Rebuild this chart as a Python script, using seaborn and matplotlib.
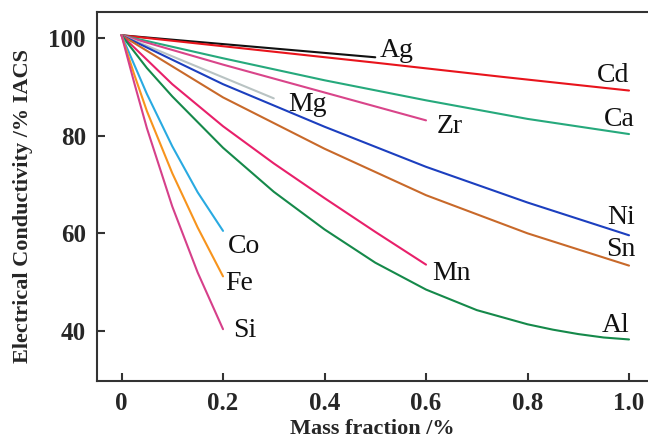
import pandas as pd
import seaborn as sns
from matplotlib import pyplot as plt

# Conductivity of copper alloys vs. mass fraction of the solute element
alloys = ["Ag", "Cd", "Ca", "Zr", "Mg", "Ni", "Sn", "Mn", "Al", "Co", "Fe", "Si"]

ag_x = [0.0, 0.5]
ag_y = [100.5, 96.0]
cd_x = [0.0, 0.25, 0.5, 0.75, 1.0]
cd_y = [100.5, 97.7, 94.9, 92.0, 89.2]
ca_x = [0.0, 0.2, 0.4, 0.6, 0.8, 1.0]
ca_y = [100.5, 95.8, 91.3, 87.2, 83.4, 80.3]
zr_x = [0.0, 0.2, 0.4, 0.6]
zr_y = [100.5, 94.5, 88.8, 83.1]
mg_x = [0.0, 0.3]
mg_y = [100.5, 87.6]
ni_x = [0.0, 0.2, 0.4, 0.6, 0.8, 1.0]
ni_y = [100.5, 90.5, 81.8, 73.6, 66.3, 59.6]
sn_x = [0.0, 0.2, 0.4, 0.6, 0.8, 1.0]
sn_y = [100.5, 87.8, 77.3, 67.8, 60.0, 53.4]
mn_x = [0.0, 0.1, 0.2, 0.3, 0.4, 0.5, 0.6]
mn_y = [100.5, 90.5, 81.9, 74.3, 67.2, 60.3, 53.6]
al_x = [0.0, 0.05, 0.1, 0.2, 0.3, 0.4, 0.5, 0.6, 0.7, 0.8, 0.85, 0.9, 0.95, 1.0]
al_y = [100.5, 93.8, 88.0, 77.5, 68.5, 60.8, 54.0, 48.5, 44.3, 41.4, 40.3, 39.4, 38.7, 38.3]
co_x = [0.0, 0.05, 0.1, 0.15, 0.2]
co_y = [100.5, 88.5, 77.8, 68.4, 60.5]
fe_x = [0.0, 0.025, 0.05, 0.1, 0.15, 0.2]
fe_y = [100.5, 92.5, 85.0, 72.3, 61.2, 51.2]
si_x = [0.0, 0.025, 0.05, 0.1, 0.15, 0.2]
si_y = [100.5, 90.8, 81.5, 65.5, 52.0, 40.4]

xs = [ag_x, cd_x, ca_x, zr_x, mg_x, ni_x, sn_x, mn_x, al_x, co_x, fe_x, si_x]
ys = [ag_y, cd_y, ca_y, zr_y, mg_y, ni_y, sn_y, mn_y, al_y, co_y, fe_y, si_y]

colors = {"Ag": "#111111", "Cd": "#e8141c", "Ca": "#26a97c", "Zr": "#d9458a",
          "Mg": "#b9c3c3", "Ni": "#1c3fbf", "Sn": "#c8692a", "Mn": "#e8206a",
          "Al": "#15894a", "Co": "#29aae1", "Fe": "#f7941d", "Si": "#d6408a"}

# label offsets from the curve end, in pixels (dx, dy, ha)
label_pos = {"Ag": (4, 0, "left"), "Cd": (0, 9, "right"), "Ca": (6, 8, "right"),
             "Zr": (11, -13, "left"), "Mg": (14, -13, "left"), "Ni": (6, 11, "right"),
             "Sn": (6, 10, "right"), "Mn": (6, -15, "left"), "Al": (0, 7, "right"),
             "Co": (5, -22, "left"), "Fe": (2, -14, "left"), "Si": (10, -8, "left")}

rows = []
for name, x, y in zip(alloys, xs, ys):
    for a, b in zip(x, y):
        rows.append({"alloy": name, "mass": a, "cond": b})
df = pd.DataFrame(rows)

sns.set_style("ticks")
plt.rcParams["font.family"] = ["Liberation Serif", "DejaVu Serif"]

fig = plt.figure(figsize=(6.48, 4.38), dpi=100)
ax = fig.add_axes([0.1497, 0.1301, 0.8503, 0.8425])

sns.lineplot(data=df, x="mass", y="cond", hue="alloy", hue_order=alloys,
             palette=colors, estimator=None, sort=False, legend=False,
             linewidth=1.5, ax=ax)

for name, x, y in zip(alloys, xs, ys):
    dx, dy, ha = label_pos[name]
    ax.annotate(name, xy=(x[-1], y[-1]), xytext=(dx, dy),
                textcoords="offset pixels", ha=ha, va="baseline",
                fontsize=20, color="#111111")

ax.set_xlim(-0.0483, 1.0374)
ax.set_ylim(29.8, 105.26)
ax.set_xticks([0, 0.2, 0.4, 0.6, 0.8, 1.0])
ax.set_xticklabels(["0", "0.2", "0.4", "0.6", "0.8", "1.0"])
ax.set_yticks([40, 60, 80, 100])

for side in ["left", "bottom", "top"]:
    ax.spines[side].set_linewidth(1.5)
    ax.spines[side].set_color("#333333")
ax.spines["right"].set_visible(False)

ax.tick_params(direction="in", length=6, width=1.5, color="#333333",
               labelsize=18, pad=8)
for lab in ax.get_xticklabels() + ax.get_yticklabels():
    lab.set_fontweight("bold")

ax.set_xlabel("Mass fraction /%", fontsize=16, fontweight="bold", labelpad=3)
ax.set_ylabel("Electrical Conductivity /% IACS", fontsize=16, fontweight="bold")
ax.yaxis.set_label_coords(-0.117, 0.474)

fig.savefig("out.png", dpi=100)
